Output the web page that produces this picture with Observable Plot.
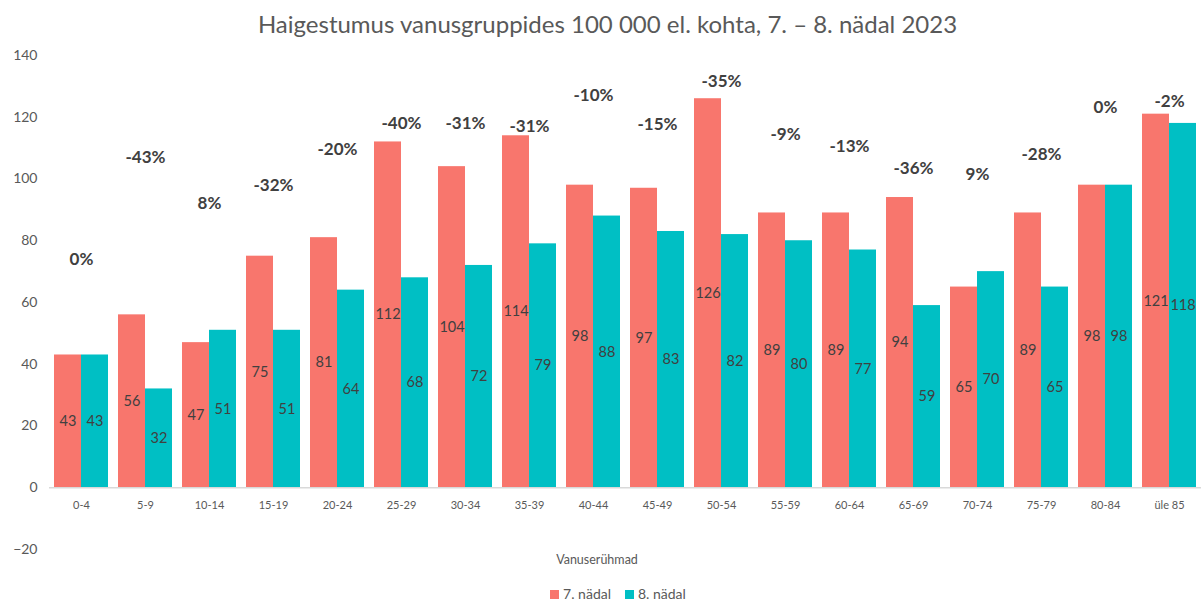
<!DOCTYPE html>
<html>
<head>
<meta charset="utf-8">
<script src="https://cdn.jsdelivr.net/npm/d3@7"></script>
<script src="https://cdn.jsdelivr.net/npm/@observablehq/plot@0.6"></script>
<style>
  html, body { margin: 0; padding: 0; background: #fff; }
  body { position: relative; width: 1201px; height: 600px; overflow: hidden; font-family: Lato, "Open Sans", sans-serif; }
  #title { height: 40px; padding-top: 4px; padding-left: 14px; box-sizing: border-box; line-height: 40px; text-align: center; font-size: 24px; color: #595959; }
  #chart { height: 519px; }
  #xlabel { position: absolute; left: 0; width: 1194px; top: 552px; text-align: center; font-size: 12.5px; color: #595959; }
  #legend { position: absolute; left: 0; width: 1236px; top: 585px; display: flex; justify-content: center; gap: 14px; font-size: 14px; color: #595959; }
  .sw { display: inline-block; width: 9px; height: 9px; margin-right: 4px; }
</style>
</head>
<body>
<div id="title">Haigestumus vanusgruppides 100 000 el. kohta, 7. – 8. nädal 2023</div>
<div id="chart"></div>
<div id="xlabel">Vanuserühmad</div>
<div id="legend"></div>
<script>
const groups = ["0-4","5-9","10-14","15-19","20-24","25-29","30-34","35-39","40-44","45-49","50-54","55-59","60-64","65-69","70-74","75-79","80-84","üle 85"];
const series = ["7. nädal", "8. nädal"];
const week7 = [43, 56, 47, 75, 81, 112, 104, 114, 98, 97, 126, 89, 89, 94, 65, 89, 98, 121];
const week8 = [43, 32, 51, 51, 64, 68, 72, 79, 88, 83, 82, 80, 77, 59, 70, 65, 98, 118];
const pctLabels = ["0%","-43%","8%","-32%","-20%","-40%","-31%","-31%","-10%","-15%","-35%","-9%","-13%","-36%","9%","-28%","0%","-2%"];
const pctLevel = [74, 107, 92, 98, 109.5, 118, 118, 117, 127, 117.5, 131.5, 114.5, 110.5, 103.5, 101.5, 108, 123, 125];
const yTicks = [-20, 0, 20, 40, 60, 80, 100, 120, 140];
const colors = ["#F8766D", "#00BFC4"];

const rows = [];
groups.forEach((g, i) => {
  rows.push({group: g, series: series[0], value: week7[i]});
  rows.push({group: g, series: series[1], value: week8[i]});
});
const pct = groups.map((g, i) => ({group: g, label: pctLabels[i], level: pctLevel[i]}));

const chart = Plot.plot({
  width: 1201,
  height: 519,
  marginLeft: 48,
  marginRight: 0,
  marginTop: 15,
  marginBottom: 10,
  style: {fontFamily: "Lato, 'Open Sans', sans-serif", background: "#fff"},
  fx: {domain: groups, axis: null, paddingInner: 0, paddingOuter: 0},
  x: {domain: series, axis: null, paddingInner: 0, paddingOuter: 0.18},
  y: {domain: [-20, 140], ticks: yTicks, axis: null},
  color: {domain: series, range: colors},
  marks: [
    Plot.axisY({ticks: yTicks, tickSize: 0, tickPadding: 12, fontSize: 14, color: "#595959", label: null, facetAnchor: "left"}),
    Plot.barY(rows, {fx: "group", x: "series", y: "value", fill: "series"}),
    Plot.ruleY([0], {stroke: "#d9d9d9", strokeWidth: 1.5}),
    Plot.text(rows, {fx: "group", x: "series", y: d => d.value / 2, text: d => String(d.value), fontSize: 14.5, fill: "#404040"}),
    Plot.text(pct, {fx: "group", y: "level", text: "label", fontSize: 17, fontWeight: "bold", fill: "#404040"}),
    Plot.text(groups, {fx: d => d, y: 0, text: d => d, dy: 18, fontSize: 11, fill: "#595959"})
  ]
});
document.getElementById("chart").appendChild(chart);

const legend = document.getElementById("legend");
series.forEach((s, i) => {
  const item = document.createElement("span");
  item.innerHTML = `<span class="sw" style="background:${colors[i]}"></span>${s}`;
  legend.appendChild(item);
});
</script>
</body>
</html>
